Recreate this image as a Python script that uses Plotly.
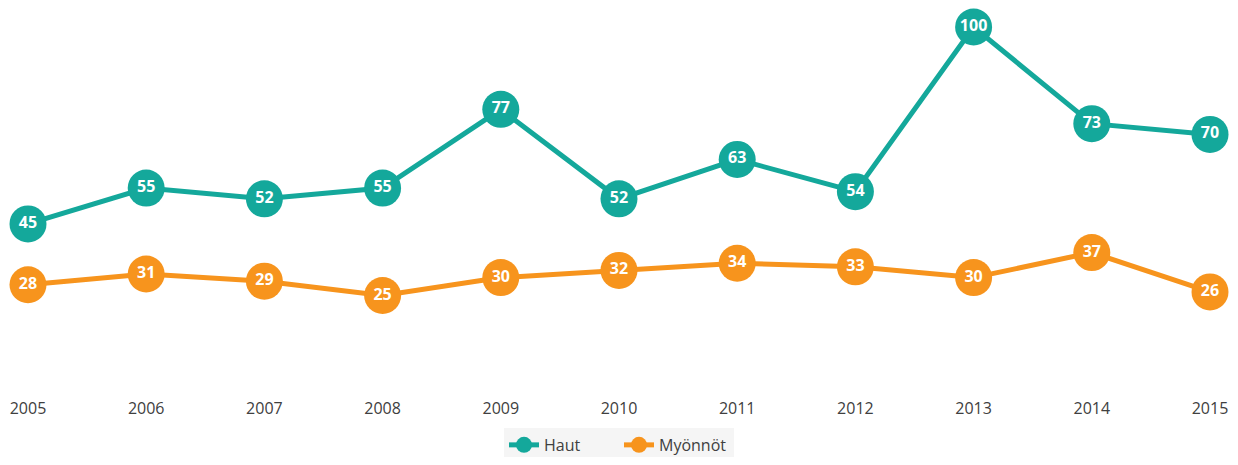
import plotly.graph_objects as go

years = ['2005', '2006', '2007', '2008', '2009', '2010', '2011', '2012', '2013', '2014', '2015']
haut = [45, 55, 52, 55, 77, 52, 63, 54, 100, 73, 70]
myonnot = [28, 31, 29, 25, 30, 32, 34, 33, 30, 37, 26]

teal = '#14a89b'
orange = '#f7941d'

fig = go.Figure()
for name, vals, col in [('Haut', haut, teal), ('Myönnöt', myonnot, orange)]:
    fig.add_trace(go.Scatter(
        x=years, y=vals, name=name,
        mode='lines+markers+text',
        text=[str(v) for v in vals],
        textposition='middle center',
        textfont=dict(family='Open Sans', size=16, color='white', weight='bold'),
        line=dict(color=col, width=5),
        marker=dict(color=col, size=37),
        cliponaxis=False,
    ))

# page body has an 8px margin, so the figure is sized to fit inside it
fig.update_layout(
    width=1222, height=449,
    margin=dict(l=20, r=20, t=19, b=72, autoexpand=False),
    paper_bgcolor='white',
    plot_bgcolor='white',
    xaxis=dict(
        type='category',
        showgrid=False, zeroline=False, showline=False,
        automargin=False,
        ticks='', ticklabelstandoff=12,
        tickfont=dict(family='Open Sans', size=16, color='#404040'),
        range=[0, 10],
    ),
    yaxis=dict(
        range=[0, 100], visible=False,
        showgrid=False, zeroline=False,
    ),
    legend=dict(
        orientation='h',
        x=0.5, xanchor='center',
        y=-0.12, yanchor='top',
        bgcolor='#f5f5f5',
        font=dict(family='Open Sans', size=16, color='#404040'),
        entrywidth=70,
    ),
    showlegend=True,
)

fig.write_html("out.html")
